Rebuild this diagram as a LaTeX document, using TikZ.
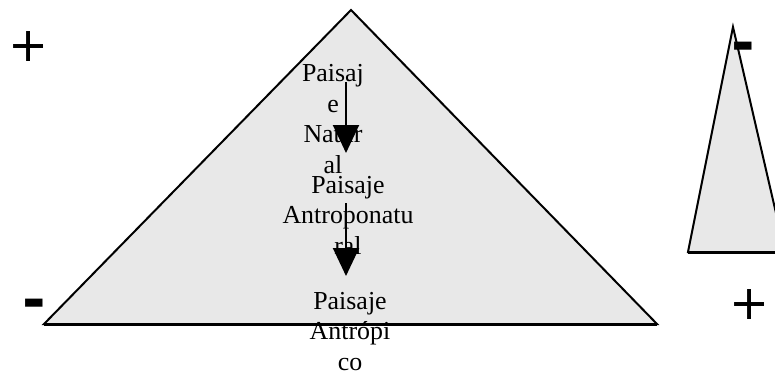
\documentclass[tikz,border=0pt]{standalone}
\usepackage{fontspec}
\setmainfont{Liberation Serif}
\newfontfamily\signfont{DejaVu Sans}
\usetikzlibrary{arrows.meta}
\definecolor{pyrfill}{RGB}{232,232,232}
\tikzset{
  stage/.style={font=\fontsize{26}{30.5}\selectfont, align=center, inner sep=0pt, anchor=base},
  sign/.style={font=\signfont\fontsize{48}{48}\selectfont, inner sep=0pt},
  bar/.style={font=\signfont\bfseries\fontsize{57}{57}\selectfont, inner sep=0pt, anchor=base},
  flow/.style={line width=2bp, -{Triangle[length=28bp,width=26bp]}}
}

\begin{document}
\begin{tikzpicture}[x=1bp, y=-1bp]
  \useasboundingbox (0,0) rectangle (775,373);
  \begin{scope}
    \clip (0,0) rectangle (775,373);
    % Large pyramid
    \filldraw[fill=pyrfill, line width=2bp] (44,324) -- (351,10) -- (657,324) -- cycle;
    % Small pyramid, cut by the right edge
    \filldraw[fill=pyrfill, line width=2bp] (688,252) -- (733,27) -- (785,252) -- cycle;
    \draw[line width=3bp] (688,252) -- (785,252);
  \end{scope}
  % Stages of the landscape (anchored at the last line)
  \node[stage] (natural) at (333,173) {Paisaj\\e\\Natur\\al};
  \node[stage] (antroponat) at (348,254) {Paisaje\\Antroponatu\\ral};
  \node[stage] (antropico) at (350,370) {Paisaje\\Antrópi\\co};
  % Arrows between stages
  \coordinate (a1) at (346,82);
  \coordinate (b1) at (346,153);
  \coordinate (a2) at (346,203);
  \coordinate (b2) at (346,276);
  \draw[flow] (a1) -- (b1);
  \draw[flow] (a2) -- (b2);
  % Base of the large pyramid
  \draw[line width=3bp] (44,324) -- (657,324);
  % Signs
  \node[sign] (plusL) at (29,47) {+};
  \node[bar] (minusL) at (34,319) {-};
  \node[bar] (minusR) at (743,62) {-};
  \node[sign] (plusR) at (750,305) {+};
\end{tikzpicture}
\end{document}
